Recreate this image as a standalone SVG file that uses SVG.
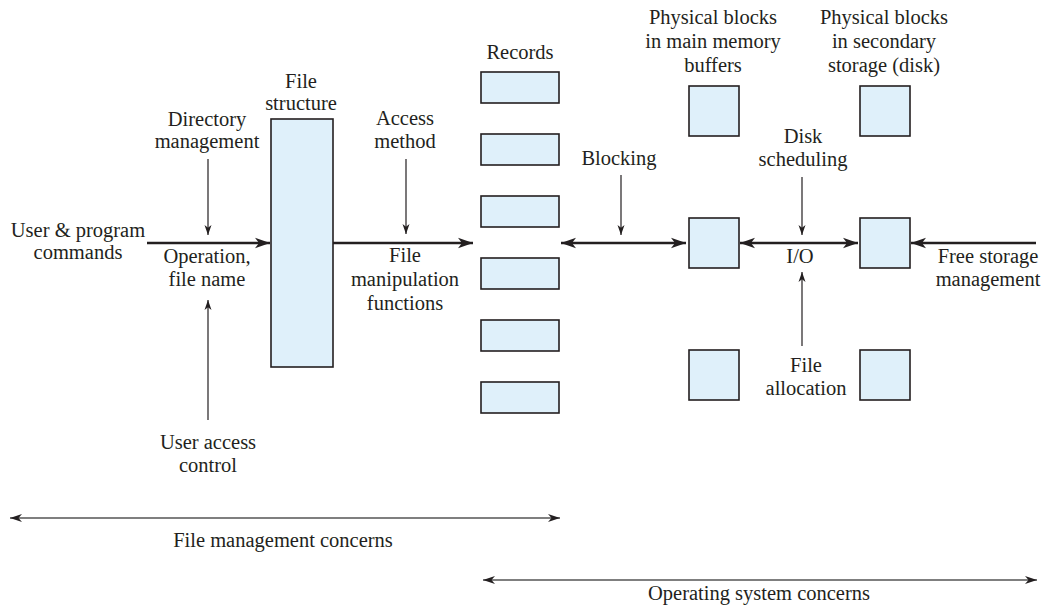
<svg xmlns="http://www.w3.org/2000/svg" width="1051" height="606" viewBox="0 0 1051 606">
<defs>
<style>
text{font-family:'Liberation Serif','Times New Roman',Times,'Noto Serif','DejaVu Serif',serif;font-size:20.5px;fill:#231f20;text-anchor:middle}
.box{fill:#dff0fa;stroke:#231f20;stroke-width:1.6}
.thick{stroke:#231f20;stroke-width:2.6;fill:none}
.thin{stroke:#231f20;stroke-width:1.2;fill:none}
.span{stroke:#555;stroke-width:1.6;fill:none}
</style>
<marker id="ah" markerUnits="userSpaceOnUse" markerWidth="16" markerHeight="12" refX="15" refY="6" orient="auto-start-reverse">
<path d="M0,0.8 L15,6 L0,11.2 L4,6 z" fill="#231f20"/>
</marker>
<marker id="as" markerUnits="userSpaceOnUse" markerWidth="11" markerHeight="8" refX="10" refY="4" orient="auto-start-reverse">
<path d="M0,0.5 L10,4 L0,7.5 L2.8,4 z" fill="#231f20"/>
</marker>
<marker id="am" markerUnits="userSpaceOnUse" markerWidth="13" markerHeight="9" refX="12" refY="4.5" orient="auto-start-reverse">
<path d="M0,0.6 L12,4.5 L0,8.4 L3.5,4.5 z" fill="#231f20"/>
</marker>
</defs>

<g id="file-structure">
<rect class="box" x="271" y="119" width="62" height="248"/>
<text x="301" y="88" font-family="Liberation Serif, serif">File</text>
<text x="301" y="110" font-family="Liberation Serif, serif">structure</text>
</g>

<g id="records">
<text x="520" y="59" font-family="Liberation Serif, serif">Records</text>
<rect class="box" x="481" y="72" width="78" height="31"/>
<rect class="box" x="481" y="134" width="78" height="31"/>
<rect class="box" x="481" y="196" width="78" height="31"/>
<rect class="box" x="481" y="258" width="78" height="31"/>
<rect class="box" x="481" y="320" width="78" height="31"/>
<rect class="box" x="481" y="382" width="78" height="31"/>
</g>

<g id="main-memory-buffers" font-family="Liberation Serif, serif">
<text x="713" y="24">Physical blocks</text>
<text x="713" y="48">in main memory</text>
<text x="713" y="72">buffers</text>
<rect class="box" x="689" y="86" width="50" height="50"/>
<rect class="box" x="689" y="218" width="50" height="50"/>
<rect class="box" x="689" y="350" width="50" height="50"/>
</g>

<g id="secondary-storage">
<text x="884" y="24">Physical blocks</text>
<text x="884" y="48">in secondary</text>
<text x="884" y="72">storage (disk)</text>
<rect class="box" x="860" y="86" width="50" height="50"/>
<rect class="box" x="860" y="218" width="50" height="50"/>
<rect class="box" x="860" y="350" width="50" height="50"/>
</g>

<g id="labels">
<text x="78" y="237">User &amp; program</text>
<text x="78" y="259">commands</text>
<text x="207" y="126">Directory</text>
<text x="207" y="148">management</text>
<text x="207" y="263">Operation,</text>
<text x="207" y="286">file name</text>
<text x="208" y="449">User access</text>
<text x="208" y="472">control</text>
<text x="405" y="125">Access</text>
<text x="405" y="148">method</text>
<text x="405" y="262">File</text>
<text x="405" y="286">manipulation</text>
<text x="405" y="310">functions</text>
<text x="619" y="165">Blocking</text>
<text x="803" y="143">Disk</text>
<text x="803" y="166">scheduling</text>
<text x="800" y="263">I/O</text>
<text x="806" y="372">File</text>
<text x="806" y="395">allocation</text>
<text x="988" y="263">Free storage</text>
<text x="988" y="286">management</text>
<text x="283" y="547">File management concerns</text>
<text x="759" y="600">Operating system concerns</text>
</g>

<g id="connectors">
<line class="thick" x1="147" y1="243" x2="270" y2="243" marker-end="url(#ah)"/>
<line class="thick" x1="333" y1="243" x2="473" y2="243" marker-end="url(#ah)"/>
<line class="thick" x1="561" y1="243" x2="686" y2="243" marker-start="url(#ah)" marker-end="url(#ah)"/>
<line class="thick" x1="740" y1="243" x2="858" y2="243" marker-start="url(#ah)" marker-end="url(#ah)"/>
<line class="thick" x1="1036" y1="243" x2="911" y2="243" marker-end="url(#ah)"/>
<line class="thin" x1="208" y1="159" x2="208" y2="235" marker-end="url(#as)"/>
<line class="thin" x1="208" y1="420" x2="208" y2="300" marker-end="url(#as)"/>
<line class="thin" x1="406" y1="159" x2="406" y2="234" marker-end="url(#as)"/>
<line class="thin" x1="621" y1="175" x2="621" y2="235" marker-end="url(#as)"/>
<line class="thin" x1="802" y1="177" x2="802" y2="235" marker-end="url(#as)"/>
<line class="thin" x1="802" y1="346" x2="802" y2="272" marker-end="url(#as)"/>
<line class="span" x1="10" y1="518" x2="560" y2="518" marker-start="url(#am)" marker-end="url(#am)"/>
<line class="span" x1="483" y1="580" x2="1037" y2="580" marker-start="url(#am)" marker-end="url(#am)"/>
</g>
</svg>
